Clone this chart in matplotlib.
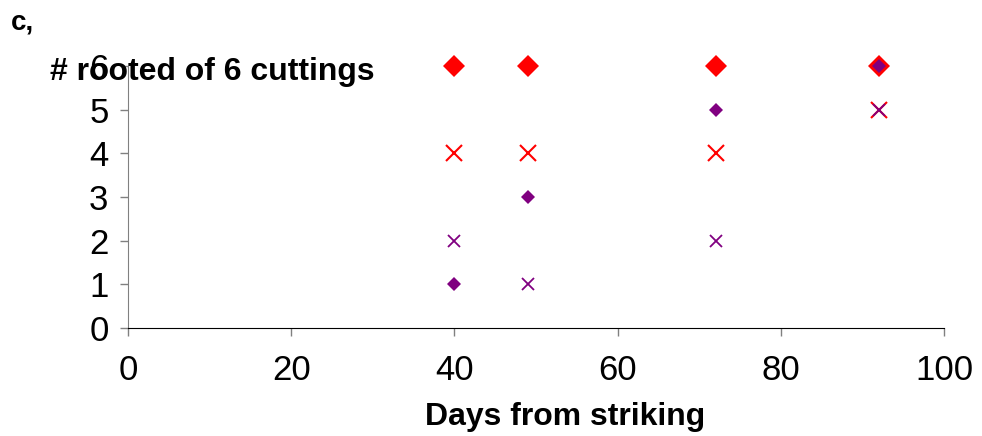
import matplotlib
matplotlib.use('Agg')
import matplotlib.pyplot as plt

plt.rcParams['font.family'] = ['Liberation Sans', 'DejaVu Sans']

days = [40, 49, 72, 92]
red_diamond = [6, 6, 6, 6]
red_cross = [4, 4, 4, 5]
purple_diamond = [1, 3, 5, 6]
purple_cross = [2, 1, 2, 5]

fig = plt.figure(figsize=(9.82, 4.36), dpi=100)
ax = fig.add_axes([0.1303, 0.2477, 0.8310, 0.6009])

ax.plot(days, red_diamond, 'D', color='red', ms=11, mew=0, ls='none', zorder=3, clip_on=False)
ax.plot(days, red_cross, 'x', color='red', ms=11, mew=1.5, ls='none', zorder=3, clip_on=False)
ax.plot(days, purple_diamond, 'D', color='purple', ms=7.5, mew=0, ls='none', zorder=4, clip_on=False)
ax.plot(days, purple_cross, 'x', color='purple', ms=8.5, mew=1.3, ls='none', zorder=4, clip_on=False)

ax.set_xlim(0, 100)
ax.set_ylim(0, 6)
ax.set_xticks(range(0, 101, 20))
ax.set_yticks(range(0, 7))
ax.spines['top'].set_visible(False)
ax.spines['right'].set_visible(False)
ax.spines['left'].set_color('#808080')
ax.spines['bottom'].set_color('black')
ax.tick_params(axis='both', direction='out', length=6, width=1, color='#808080', labelsize=25)
ax.tick_params(axis='y', pad=8)
ax.tick_params(axis='x', pad=13)

fig.text(0.5754, 0.0436, 'Days from striking', fontsize=23, fontweight='bold', va='center', ha='center')
fig.text(0.051, 0.835, '# rooted of 6 cuttings', fontsize=23, fontweight='bold', va='center', ha='left', zorder=10)
fig.text(0.011, 0.948, 'c,', fontsize=20, fontweight='bold', va='center', ha='left')

fig.savefig('out.png', dpi=100)
